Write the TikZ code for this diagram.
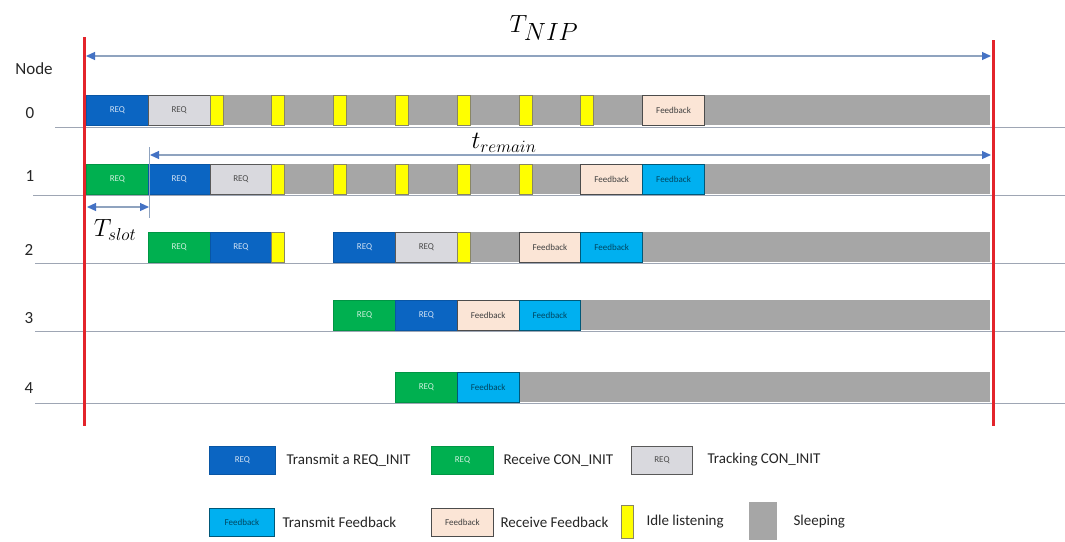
\documentclass[tikz,border=0pt]{standalone}
\usepackage{fontspec}
\setmainfont{Carlito}
\usetikzlibrary{arrows.meta}
\definecolor{txblue}{HTML}{0B65C2}
\definecolor{rxgreen}{HTML}{00B050}
\definecolor{trgray}{HTML}{D9D9DE}
\definecolor{fbblue}{HTML}{00B0F0}
\definecolor{fbbeige}{HTML}{FBE5D6}
\definecolor{idleyel}{HTML}{FFFF00}
\definecolor{sleepgray}{HTML}{A6A6A6}
\definecolor{redline}{HTML}{E3242B}
\definecolor{rowline}{HTML}{9EA6B4}
\definecolor{arrowc}{HTML}{8FA3BF}
\definecolor{headc}{HTML}{4472C4}
\begin{document}
\begin{tikzpicture}[x=1pt,y=-1pt,
  box/.style={line width=0.9pt, minimum width=61.8pt, minimum height=30pt, inner sep=0pt, anchor=west, font=\fontsize{9}{10}\selectfont},
  txreq/.style={box, fill=txblue, draw=txblue!85!black, text=white!80!txblue},
  rxreq/.style={box, fill=rxgreen, draw=rxgreen!85!black, text=white!80!rxgreen},
  trreq/.style={box, fill=trgray, draw=black!65, text=black!70},
  fbtx/.style={box, fill=fbblue, draw=fbblue!50!black, text=fbblue!40!black},
  fbrx/.style={box, fill=fbbeige, draw=black!70, text=black!75},
  idle/.style={line width=0.9pt, fill=idleyel, draw=black!55!yellow!60!gray, minimum width=13pt, minimum height=30pt, inner sep=0pt, anchor=west},
  sleep/.style={fill=sleepgray},
  rowlbl/.style={font=\fontsize{17}{19}\selectfont, text=black!85},
  leglbl/.style={font=\fontsize{15}{17}\selectfont, text=black!85, anchor=west},
  redl/.style={draw=redline, line width=3pt},
  rowl/.style={draw=rowline, line width=1pt},
  dim/.style={draw=arrowc, line width=1.2pt, {Triangle[length=9pt,width=8pt,color=headc]}-{Triangle[length=9pt,width=8pt,color=headc]}},
]
\useasboundingbox (0,0) rectangle (1065,541);
\fill[white] (0,0) rectangle (1065,541);

% row base lines
\coordinate (l0a) at (55,127);  \coordinate (l0b) at (1065,127);
\coordinate (l1a) at (33,195);  \coordinate (l1b) at (1065,195);
\coordinate (l2a) at (35,263);  \coordinate (l2b) at (1065,263);
\coordinate (l3a) at (35,331);  \coordinate (l3b) at (1065,331);
\coordinate (l4a) at (35,403);  \coordinate (l4b) at (1065,403);
\draw[rowl] (l0a) -- (l0b);
\draw[rowl] (l1a) -- (l1b);
\draw[rowl] (l2a) -- (l2b);
\draw[rowl] (l3a) -- (l3b);
\draw[rowl] (l4a) -- (l4b);

% sleeping backgrounds
\fill[sleep] (86,95) rectangle (990,125);
\fill[sleep] (86,164) rectangle (990,194);
\fill[sleep] (333.2,232) rectangle (990,262);
\fill[sleep] (333.2,300) rectangle (990,330);
\fill[sleep] (395,372) rectangle (990,402);

% row 0
\node[txreq] (a0) at ({86+61.8*0},110) {REQ};
\node[trreq] (a1) at ({86+61.8*1},110) {REQ};
\node[idle] (a2) at ({86+61.8*2},110) {};
\node[idle] (a3) at ({86+61.8*3},110) {};
\node[idle] (a4) at ({86+61.8*4},110) {};
\node[idle] (a5) at ({86+61.8*5},110) {};
\node[idle] (a6) at ({86+61.8*6},110) {};
\node[idle] (a7) at ({86+61.8*7},110) {};
\node[idle] (a8) at ({86+61.8*8},110) {};
\node[fbrx] (a9) at ({86+61.8*9},110) {Feedback};

% row 1
\node[rxreq] (b0) at ({86+61.8*0},179) {REQ};
\node[txreq] (b1) at ({86+61.8*1},179) {REQ};
\node[trreq] (b2) at ({86+61.8*2},179) {REQ};
\node[idle] (b3) at ({86+61.8*3},179) {};
\node[idle] (b4) at ({86+61.8*4},179) {};
\node[idle] (b5) at ({86+61.8*5},179) {};
\node[idle] (b6) at ({86+61.8*6},179) {};
\node[idle] (b7) at ({86+61.8*7},179) {};
\node[fbrx] (b8) at ({86+61.8*8},179) {Feedback};
\node[fbtx] (b9) at ({86+61.8*9},179) {Feedback};

% row 2
\node[rxreq] (c1) at ({86+61.8*1},247) {REQ};
\node[txreq] (c2) at ({86+61.8*2},247) {REQ};
\node[idle] (c3) at ({86+61.8*3},247) {};
\node[txreq] (c4) at ({86+61.8*4},247) {REQ};
\node[trreq] (c5) at ({86+61.8*5},247) {REQ};
\node[idle] (c6) at ({86+61.8*6},247) {};
\node[fbrx] (c7) at ({86+61.8*7},247) {Feedback};
\node[fbtx] (c8) at ({86+61.8*8},247) {Feedback};

% row 3
\node[rxreq] (d4) at ({86+61.8*4},315) {REQ};
\node[txreq] (d5) at ({86+61.8*5},315) {REQ};
\node[fbrx] (d6) at ({86+61.8*6},315) {Feedback};
\node[fbtx] (d7) at ({86+61.8*7},315) {Feedback};

% row 4
\node[rxreq] (e5) at ({86+61.8*5},387) {REQ};
\node[fbtx] (e6) at ({86+61.8*6},387) {Feedback};

% red boundary lines
\coordinate (rl1) at (84,37);  \coordinate (rl2) at (84,426);
\coordinate (rr1) at (993,40); \coordinate (rr2) at (993,426);
\draw[redl] (rl1) -- (rl2);
\draw[redl] (rr1) -- (rr2);

% dimension arrows
\coordinate (nipL) at (86,56);  \coordinate (nipR) at (991,56);
\draw[dim] (nipL) -- (nipR);
\node (tnip) at (544,28) {\fontsize{34}{40}\selectfont $T_{NIP}$};

\coordinate (tick1) at (149,147); \coordinate (tick2) at (149,218);
\draw[draw=arrowc, line width=0.8pt] (tick1) -- (tick2);
\coordinate (remL) at (150,155); \coordinate (remR) at (991,155);
\draw[dim] (remL) -- (remR);
\node (trem) at (504,143) {\fontsize{24}{28}\selectfont $t_{remain}$};

\coordinate (slotL) at (87,207); \coordinate (slotR) at (149,207);
\draw[dim] (slotL) -- (slotR);
\node (tslot) at (115,230) {\fontsize{25}{28}\selectfont $T_{slot}$};

% row labels
\node[rowlbl] (nodehdr) at (34,69) {Node};
\node[rowlbl] (n0) at (30,113) {0};
\node[rowlbl] (n1) at (30,176) {1};
\node[rowlbl] (n2) at (29,250) {2};
\node[rowlbl] (n3) at (29,318) {3};
\node[rowlbl] (n4) at (29,388) {4};

% legend
\node[txreq, minimum width=66pt, minimum height=28pt] (g1) at (209,460) {REQ};
\node[leglbl] (g1t) at (283,460) {Transmit a REQ\_INIT};
\node[rxreq, minimum width=62pt, minimum height=28pt] (g2) at (431,460) {REQ};
\node[leglbl] (g2t) at (500,460) {Receive CON\_INIT};
\node[trreq, minimum width=61pt, minimum height=28pt] (g3) at (631,460) {REQ};
\node[leglbl] (g3t) at (704,460) {Tracking CON\_INIT};

\node[fbtx, minimum width=65pt, minimum height=28pt] (g4) at (209,522) {Feedback};
\node[leglbl] (g4t) at (279,522) {Transmit Feedback};
\node[fbrx, minimum width=62pt, minimum height=28pt] (g5) at (431,522) {Feedback};
\node[leglbl] (g5t) at (497,522) {Receive Feedback};
\node[idle, minimum width=12pt, minimum height=33pt] (g6) at (621,522) {};
\node[leglbl] (g6t) at (643,522) {Idle listening};
\node[fill=sleepgray, minimum width=28pt, minimum height=38pt, inner sep=0pt, anchor=west] (g7) at (749,521) {};
\node[leglbl] (g7t) at (790,522) {Sleeping};
\end{tikzpicture}
\end{document}
